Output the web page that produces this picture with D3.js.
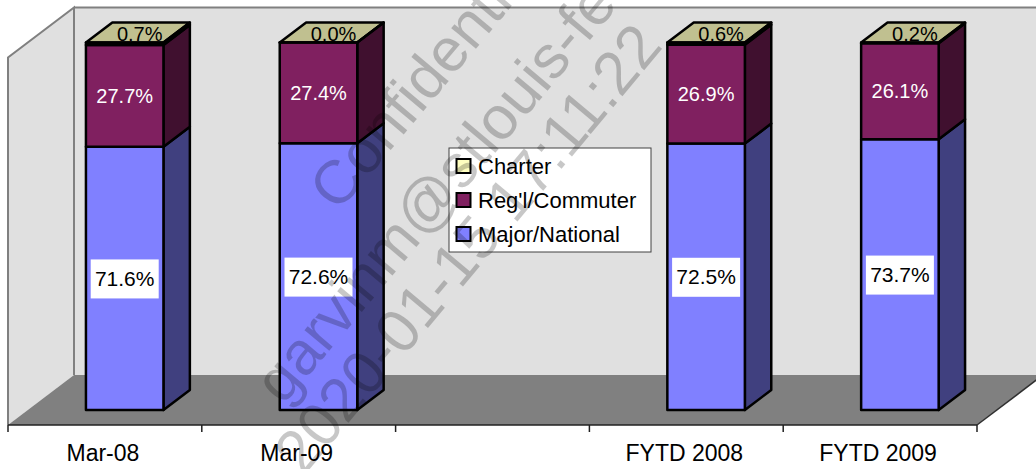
<!DOCTYPE html>
<html>
<head>
<meta charset="utf-8">
<script src="https://cdn.jsdelivr.net/npm/d3@7"></script>
<style>
  body { margin: 0; background: #fff; }
  svg text { font-family: "Liberation Sans", Arial, sans-serif; }
</style>
</head>
<body>
<svg id="chart" width="1036" height="469"></svg>
<script>
// chart values
const categories = ["Mar-08", "Mar-09", "", "FYTD 2008", "FYTD 2009"];
const majorNational = [71.6, 72.6, null, 72.5, 73.7];
const reglCommuter = [27.7, 27.4, null, 26.9, 26.1];
const charter = [0.7, 0.0, null, 0.6, 0.2];
const seriesNames = ["Major/National", "Reg'l/Commuter", "Charter"];
const watermarkLines = ["Confidential", "garvinm@stlouis-fed.org", "2020-01-15 17:11:22"];

// look
const frontColors = ["#8080ff", "#802060", "#ffffc0"];
const sideColors = ["#40407f", "#40102f", "#80805f"];
const topColors = ["#c0c0ff", "#c0609f", "#c0c090"];

const depthX = 66, depthY = -50;      // offset of the full floor depth
const barFront = 0.3, barBack = 0.7;  // bar sits in the middle of the floor

const svg = d3.select("#chart");

const x = d3.scaleBand()
  .domain(categories.map((c, i) => i))
  .range([8, 977]);

const y = d3.scaleLinear()
  .domain([0, 100])
  .range([425, 57.5]);

function shift(p, d) {
  return [p[0] + d * depthX, p[1] + d * depthY];
}
function poly(pts) {
  return pts.map(p => p.join(",")).join(" ");
}

// walls and floor
const x0 = x.range()[0], x1 = x.range()[1];
const walls = svg.append("g");

walls.append("polygon")
  .attr("points", poly([[x0, y(100)], shift([x0, y(100)], 1), shift([x0, y(0)], 1), [x0, y(0)]]))
  .attr("fill", "#e0e0e0");
walls.append("polygon")
  .attr("points", poly([shift([x0, y(100)], 1), shift([x1 + 80, y(100)], 1), shift([x1 + 80, y(0)], 1), shift([x0, y(0)], 1)]))
  .attr("fill", "#e0e0e0");
walls.append("polyline")
  .attr("points", poly([[x0, y(0)], [x0, y(100)], shift([x0, y(100)], 1), shift([x0, y(0)], 1)]))
  .attr("fill", "none")
  .attr("stroke", "#808080")
  .attr("stroke-width", 2);
walls.append("line")
  .attr("x1", shift([x0, y(100)], 1)[0]).attr("y1", y(100) + depthY)
  .attr("x2", 1036).attr("y2", y(100) + depthY)
  .attr("stroke", "#808080")
  .attr("stroke-width", 2);

walls.append("polygon")
  .attr("points", poly([[x0, y(0)], [x1, y(0)], shift([x1, y(0)], 1), shift([x0, y(0)], 1)]))
  .attr("fill", "#808080");
walls.append("line")
  .attr("x1", x1).attr("y1", y(0))
  .attr("x2", shift([x1, y(0)], 1)[0]).attr("y2", y(0) + depthY)
  .attr("stroke", "#303030")
  .attr("stroke-width", 1.5);

// axis line + ticks on band edges
svg.append("line")
  .attr("x1", x0).attr("x2", x1)
  .attr("y1", y(0)).attr("y2", y(0))
  .attr("stroke", "#202020")
  .attr("stroke-width", 1.5);

const edges = categories.map((c, i) => x(i)).concat([x1]);
svg.append("g").selectAll("line")
  .data(edges)
  .enter().append("line")
  .attr("x1", d => d).attr("x2", d => d)
  .attr("y1", y(0)).attr("y2", y(0) + 7)
  .attr("stroke", "#202020")
  .attr("stroke-width", 1.5);

const xAxis = svg.append("g")
  .attr("transform", "translate(-2," + y(0) + ")")
  .call(d3.axisBottom(x).tickSize(0).tickPadding(20).tickFormat(i => categories[i]));
xAxis.select(".domain").remove();
xAxis.attr("font-family", null).attr("font-size", 23);
xAxis.selectAll("text").attr("fill", "#000");

// stacked bars
const rows = categories.map((c, i) => ({
  i: i,
  0: majorNational[i],
  1: reglCommuter[i],
  2: charter[i]
})).filter(r => r[0] != null);

const stack = d3.stack().keys([0, 1, 2])(rows);

const bw = x.bandwidth() * 0.4;
const bars = svg.append("g");

rows.forEach((r, ri) => {
  const g = bars.append("g");
  const left = x(r.i) + (x.bandwidth() - bw) / 2;
  const right = left + bw;
  const topV = stack[2][ri][1];

  // top face first, then the charter label, then the faces cover it a bit
  g.append("polygon")
    .attr("points", poly([
      shift([left, y(topV)], barFront), shift([right, y(topV)], barFront),
      shift([right, y(topV)], barBack), shift([left, y(topV)], barBack)]))
    .attr("fill", topColors[2])
    .attr("stroke", "#000")
    .attr("stroke-width", 2.5)
    .attr("stroke-linejoin", "round");

  const tp = shift([(left + right) / 2, y(topV)], barFront);
  g.append("text")
    .attr("x", tp[0] + 15)
    .attr("y", tp[1] - 1.5)
    .attr("text-anchor", "middle")
    .attr("font-size", 20)
    .attr("fill", "#000")
    .text(charter[r.i].toFixed(1) + "%");

  stack.forEach((s, k) => {
    const v0 = s[ri][0], v1 = s[ri][1];
    g.append("polygon")
      .attr("points", poly([
        shift([right, y(v1)], barFront), shift([right, y(v1)], barBack),
        shift([right, y(v0)], barBack), shift([right, y(v0)], barFront)]))
      .attr("fill", sideColors[k])
      .attr("stroke", "#000")
      .attr("stroke-width", 2.5)
      .attr("stroke-linejoin", "round");
    g.append("polygon")
      .attr("points", poly([
        shift([left, y(v1)], barFront), shift([right, y(v1)], barFront),
        shift([right, y(v0)], barFront), shift([left, y(v0)], barFront)]))
      .attr("fill", frontColors[k])
      .attr("stroke", "#000")
      .attr("stroke-width", 2.5)
      .attr("stroke-linejoin", "round");
  });

  // major label in a white box
  const m = shift([(left + right) / 2, (y(stack[0][ri][0]) + y(stack[0][ri][1])) / 2], barFront);
  g.append("rect")
    .attr("x", m[0] - 34).attr("y", m[1] - 19)
    .attr("width", 68).attr("height", 39)
    .attr("fill", "#fff");
  g.append("text")
    .attr("x", m[0]).attr("y", m[1])
    .attr("dy", "0.35em")
    .attr("text-anchor", "middle")
    .attr("font-size", 21)
    .attr("fill", "#000")
    .text(majorNational[r.i].toFixed(1) + "%");

  const c = shift([(left + right) / 2, (y(stack[1][ri][0]) + y(stack[1][ri][1])) / 2], barFront);
  g.append("text")
    .attr("x", c[0]).attr("y", c[1])
    .attr("dy", "0.35em")
    .attr("text-anchor", "middle")
    .attr("font-size", 20)
    .attr("fill", "#fff")
    .text(reglCommuter[r.i].toFixed(1) + "%");
});

// legend
const legend = svg.append("g").attr("transform", "translate(449,148)");
legend.append("rect")
  .attr("width", 202).attr("height", 104)
  .attr("fill", "#fff")
  .attr("stroke", "#404040")
  .attr("stroke-width", 1);

const items = legend.selectAll("g.item")
  .data([2, 1, 0])
  .enter().append("g")
  .attr("class", "item")
  .attr("transform", (d, i) => "translate(0," + (18.5 + i * 34) + ")");
items.append("rect")
  .attr("x", 7.5).attr("y", -7.5)
  .attr("width", 14).attr("height", 14)
  .attr("fill", d => frontColors[d])
  .attr("stroke", "#000")
  .attr("stroke-width", 2);
items.append("text")
  .attr("x", 29)
  .attr("dy", "0.35em")
  .attr("font-size", 22)
  .attr("fill", "#000")
  .text(d => seriesNames[d]);

// watermark
const anchors = [[338, 213], [283, 406], [303, 477]];
svg.append("g").selectAll("text")
  .data(watermarkLines)
  .enter().append("text")
  .attr("transform", (d, i) => "translate(" + anchors[i] + ") rotate(-50)")
  .attr("font-size", 61)
  .attr("fill", "#000")
  .attr("fill-opacity", 0.22)
  .text(d => d);
</script>
</body>
</html>
